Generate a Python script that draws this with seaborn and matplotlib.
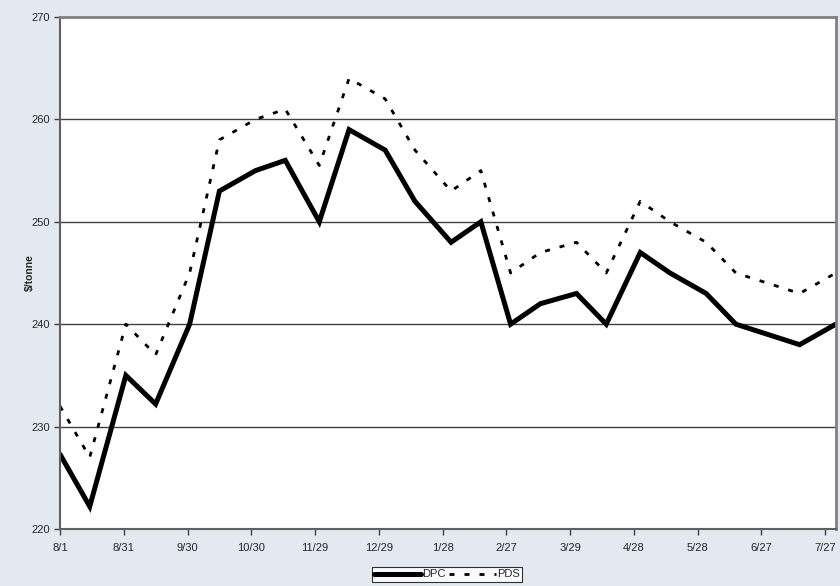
import pandas as pd
import seaborn as sns
import matplotlib.pyplot as plt

# semi-monthly price observations ($/tonne)
dates = ["2005-08-01", "2005-08-15", "2005-09-01", "2005-09-15", "2005-10-01",
         "2005-10-15", "2005-11-01", "2005-11-15", "2005-12-01", "2005-12-15",
         "2006-01-01", "2006-01-15", "2006-02-01", "2006-02-15", "2006-03-01",
         "2006-03-15", "2006-04-01", "2006-04-15", "2006-05-01", "2006-05-15",
         "2006-06-01", "2006-06-15", "2006-07-15", "2006-08-01"]
dpc = [227.3, 222.2, 235, 232.2, 240, 253, 255, 256, 250, 259, 257, 252,
       248, 250, 240, 242, 243, 240, 247, 245, 243, 240, 238, 240]
pds = [232, 227, 240, 237, 245, 258, 260, 261, 255.5, 264, 262, 257,
       253, 255, 245, 247, 248, 245, 252, 250, 248, 245, 243, 245]

tick_labels = ["8/1", "8/31", "9/30", "10/30", "11/29", "12/29", "1/28",
               "2/27", "3/29", "4/28", "5/28", "6/27", "7/27"]

df = pd.DataFrame({"date": pd.to_datetime(dates), "DPC": dpc, "PDS": pds})
start = df["date"].iloc[0]
df["day"] = (df["date"] - start).dt.days

sns.set_style("white")
plt.rcParams["font.family"] = ["Liberation Sans", "DejaVu Sans"]

bg = "#E2E9F0"
fig = plt.figure(figsize=(8.4, 5.86), dpi=100, facecolor=bg)
ax = fig.add_axes([0.0714, 0.0973, 0.9236, 0.8737])
ax.set_facecolor("white")

sns.lineplot(data=df, x="day", y="DPC", ax=ax, color="black", lw=3.6,
             label="DPC", solid_joinstyle="miter")
sns.lineplot(data=df, x="day", y="PDS", ax=ax, color="black", lw=2,
             linestyle=(0, (1.8, 3.6)), label="PDS")

ax.set_xlim(0, df["day"].iloc[-1])
ax.set_ylim(220, 270)
ax.set_yticks(range(220, 271, 10))
ax.set_xticks([30 * i for i in range(len(tick_labels))])
ax.set_xticklabels(tick_labels)
ax.tick_params(axis="both", labelsize=8, length=4, width=1, color="#404040",
               direction="out", bottom=True, left=True, pad=3)
ax.tick_params(axis="x", pad=6)

ax.yaxis.grid(True, color="#404040", lw=1)
ax.set_axisbelow(True)
ax.set_xlabel("")
ax.set_ylabel("$/tonne", fontsize=7.5, fontweight="bold", labelpad=-2)

for side in ["top", "right"]:
    ax.spines[side].set_color("#808080")
    ax.spines[side].set_linewidth(2)
for side in ["left", "bottom"]:
    ax.spines[side].set_color("#606060")
    ax.spines[side].set_linewidth(1.5)

leg = ax.legend(loc="upper center", bbox_to_anchor=(0.532, 0.0415),
                bbox_transform=fig.transFigure, ncol=2, frameon=True,
                fontsize=8, handlelength=4.2, handletextpad=0.1,
                columnspacing=0.3, borderpad=0.2, fancybox=False)
leg.get_frame().set_edgecolor("black")
leg.get_frame().set_linewidth(0.8)

fig.savefig("out.png", dpi=100, facecolor=bg)
